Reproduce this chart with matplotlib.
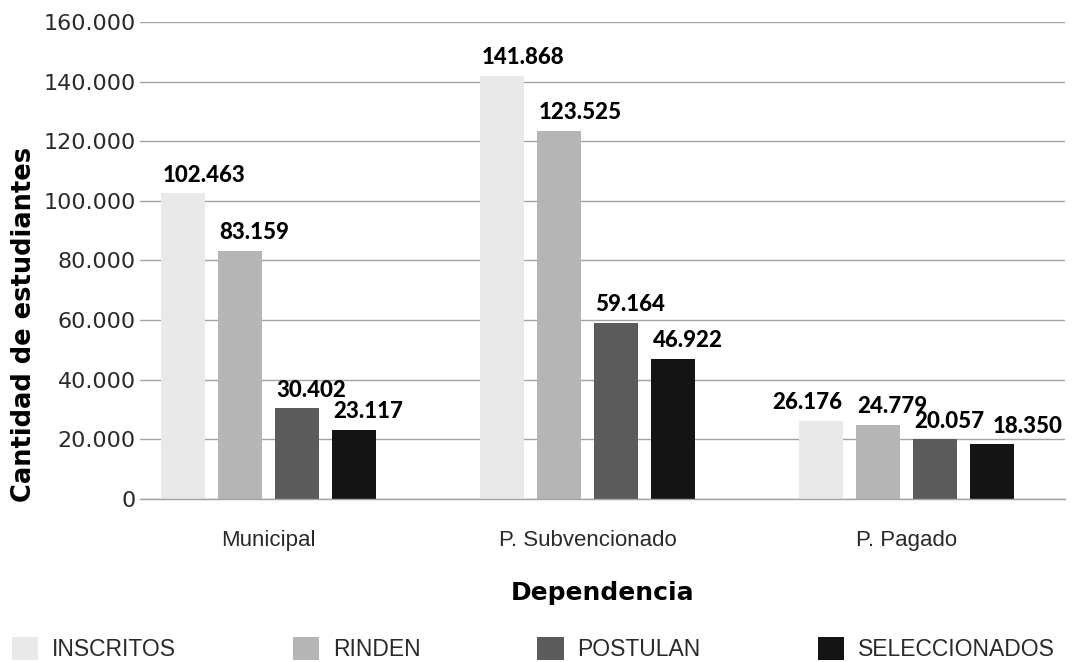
# Students per school type: enrolled, tested, applied, selected
import matplotlib.pyplot as plt
import numpy as np
from matplotlib.ticker import FuncFormatter

# data
dependencias = ['Municipal', 'P. Subvencionado', 'P. Pagado']
series = ['INSCRITOS', 'RINDEN', 'POSTULAN', 'SELECCIONADOS']
inscritos = [102463, 141868, 26176]
rinden = [83159, 123525, 24779]
postulan = [30402, 59164, 20057]
seleccionados = [23117, 46922, 18350]
colores = ['#e9e9e9', '#b5b5b5', '#5b5b5b', '#141414']

valores = [inscritos, rinden, postulan, seleccionados]

# small nudges (points) so the crowded labels of P. Pagado don't collide
nudge = {(0, 2): -19, (3, 2): 16}


def miles(v, pos):
  # thousands separator with a dot
  return '{:,.0f}'.format(v).replace(',', '.')


fig = plt.figure(figsize=(10.77, 6.62), dpi=100)
ax = fig.add_axes([0.13, 0.246, 0.859, 0.721])

x = np.arange(len(dependencias))
ancho = 0.138
paso = 0.179

for i, (nombre, vals) in enumerate(zip(series, valores)):
  pos = x + (i - 1.5) * paso
  ax.bar(pos, vals, width=ancho, color=colores[i], label=nombre, zorder=2)
  for j, (xp, v) in enumerate(zip(pos, vals)):
    dx = nudge.get((i, j), 1)
    ax.annotate(miles(v, None), (xp - ancho / 2, v), xytext=(dx, 8.5),
                textcoords='offset points', ha='left', va='baseline',
                fontsize=16, fontweight='black', family='Lato')

ax.set_xlim(-0.403, 2.497)
ax.set_ylim(0, 160000)
ax.set_yticks(np.arange(0, 160001, 20000))
ax.yaxis.set_major_formatter(FuncFormatter(miles))
ax.grid(True, axis='y', color='#a3a3a3', linewidth=1.0, zorder=0)
ax.set_axisbelow(True)
ax.axhline(0, color='#a3a3a3', linewidth=1.0, zorder=3, clip_on=False)
for s in ax.spines.values():
  s.set_visible(False)

ax.tick_params(axis='y', length=0, pad=3, labelsize=16, labelcolor='#2a2a2a')
ax.tick_params(axis='x', length=0, pad=22, labelcolor='#2a2a2a')
ax.set_xticks(x)
ax.set_xticklabels(dependencias, fontsize=16, family='Liberation Sans')
for lbl in ax.get_yticklabels():
  lbl.set_family('DejaVu Sans')

ax.set_ylabel('Cantidad de estudiantes', fontsize=18.5, fontweight='bold')
ax.yaxis.set_label_coords(-0.111, 0.365)
ax.set_xlabel('Dependencia', fontsize=18, fontweight='bold', labelpad=22)

fig.legend(loc='center left', bbox_to_anchor=(0.011, 0.019), ncol=4, frameon=False,
           prop={'family': 'Liberation Sans', 'size': 16.5}, handlelength=1.15,
           handleheight=1.15, handletextpad=0.6, columnspacing=5.1,
           borderpad=0, borderaxespad=0, labelcolor='#2a2a2a')

fig.savefig('out.png', dpi=100)
